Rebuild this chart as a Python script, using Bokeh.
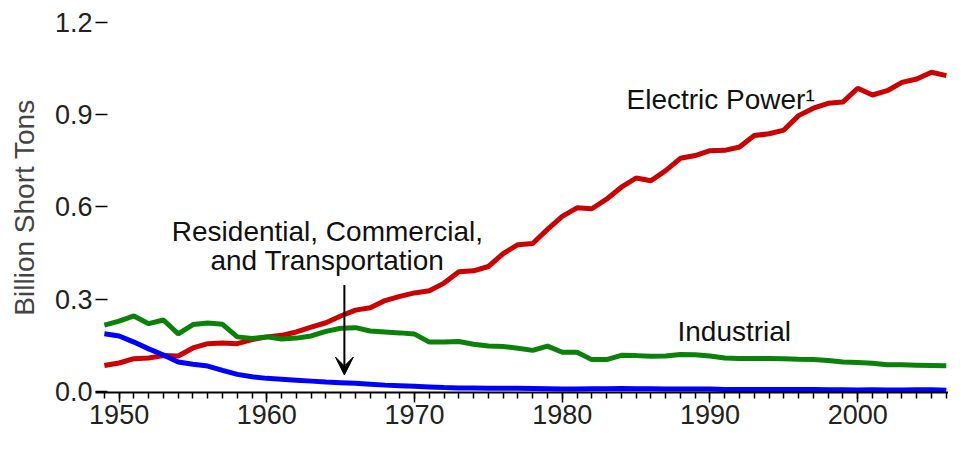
from bokeh.plotting import figure
from bokeh.models import Range1d, SingleIntervalTicker, FixedTicker, PrintfTickFormatter, Label, Arrow, VeeHead
from bokeh.embed import file_html
from bokeh.resources import INLINE

years = list(range(1949, 2007))

electric_power = [0.084, 0.092, 0.106, 0.108, 0.116, 0.115, 0.141, 0.155, 0.157, 0.155,
                  0.168, 0.177, 0.182, 0.193, 0.209, 0.223, 0.245, 0.264, 0.272, 0.295,
                  0.309, 0.320, 0.327, 0.352, 0.389, 0.392, 0.406, 0.448, 0.477, 0.481,
                  0.527, 0.569, 0.597, 0.594, 0.625, 0.664, 0.694, 0.685, 0.718, 0.758,
                  0.767, 0.783, 0.784, 0.795, 0.832, 0.838, 0.850, 0.897, 0.921, 0.937,
                  0.941, 0.986, 0.964, 0.978, 1.005, 1.016, 1.038, 1.027]

industrial = [0.215, 0.228, 0.245, 0.220, 0.232, 0.187, 0.217, 0.222, 0.218, 0.177,
              0.172, 0.177, 0.170, 0.173, 0.180, 0.195, 0.205, 0.207, 0.196, 0.193,
              0.190, 0.186, 0.160, 0.160, 0.162, 0.153, 0.147, 0.146, 0.140, 0.133,
              0.147, 0.127, 0.127, 0.103, 0.103, 0.117, 0.116, 0.114, 0.115, 0.120,
              0.119, 0.115, 0.108, 0.107, 0.107, 0.107, 0.106, 0.104, 0.103, 0.100,
              0.095, 0.094, 0.091, 0.086, 0.086, 0.085, 0.084, 0.083]

res_com_trans = [0.187, 0.180, 0.160, 0.138, 0.118, 0.095, 0.088, 0.082, 0.068, 0.055,
                 0.047, 0.042, 0.039, 0.036, 0.033, 0.030, 0.028, 0.026, 0.023, 0.020,
                 0.018, 0.016, 0.014, 0.012, 0.011, 0.011, 0.010, 0.010, 0.010, 0.009,
                 0.008, 0.007, 0.007, 0.008, 0.008, 0.009, 0.008, 0.008, 0.007, 0.007,
                 0.007, 0.007, 0.006, 0.006, 0.006, 0.006, 0.006, 0.006, 0.006, 0.005,
                 0.005, 0.004, 0.005, 0.004, 0.004, 0.005, 0.005, 0.003]

y_ticks = [0.0, 0.3, 0.6, 0.9, 1.2]

# annotation labels: (text, x-year, y-value, alignment)
label_electric = ("Electric Power\u00b9", 1984.35, 0.95, "left")
label_industrial = ("Industrial", 1987.8, 0.195, "left")
label_rct_1 = ("Residential, Commercial,", 1964.1, 0.52, "center")
label_rct_2 = ("and Transportation", 1964.1, 0.425, "center")
arrow_x = 1965.25
arrow_y = (0.346, 0.053)

FONT = "Liberation Sans"

p = figure(width=948, height=436, x_range=Range1d(1948.4, 2006.15), y_range=Range1d(-0.004, 1.2),
           output_backend="svg", toolbar_location=None,
           min_border_left=95, min_border_top=22, min_border_right=0, min_border_bottom=44)
p.outline_line_color = None
p.xgrid.visible = False
p.ygrid.visible = False

p.line(years, electric_power, line_color="#cc0000", line_width=5)
p.line(years, industrial, line_color="#0a820a", line_width=5)
p.line(years, res_com_trans, line_color="#0000ff", line_width=5)

# x axis
xa = p.xaxis[0]
xa.ticker = SingleIntervalTicker(interval=10, num_minor_ticks=10)
xa.axis_line_color = "black"
xa.axis_line_width = 2
xa.major_tick_line_color = "black"
xa.major_tick_line_width = 1.5
xa.minor_tick_line_color = "black"
xa.minor_tick_line_width = 1.5
xa.major_tick_out = 10
xa.major_tick_in = 0
xa.minor_tick_out = 6
xa.minor_tick_in = 0
xa.major_label_text_font = FONT
xa.major_label_text_font_size = "27px"
xa.major_label_text_color = "#222222"
xa.major_label_standoff = 2

# y axis
ya = p.yaxis[0]
ya.ticker = FixedTicker(ticks=y_ticks)
ya.formatter = PrintfTickFormatter(format="%.1f")
ya.axis_line_color = None
ya.major_tick_line_color = "black"
ya.major_tick_line_width = 1.5
ya.major_tick_in = 12
ya.major_tick_out = 0
ya.minor_tick_line_color = None
ya.major_label_text_font = FONT
ya.major_label_text_font_size = "27px"
ya.major_label_text_color = "#222222"
ya.major_label_standoff = 3
ya.axis_label = "Billion Short Tons"
ya.axis_label_text_font = FONT
ya.axis_label_text_font_size = "28px"
ya.axis_label_text_font_style = "normal"
ya.axis_label_text_color = "#444444"
ya.axis_label_standoff = 12

for txt, x, y, align in [label_electric, label_industrial, label_rct_1, label_rct_2]:
    p.add_layout(Label(x=x, y=y, text=txt, text_font=FONT, text_font_size="28px",
                       text_color="#111111", text_baseline="middle", text_align=align))

p.add_layout(Arrow(end=VeeHead(size=18, fill_color="black", line_color="black"),
                   x_start=arrow_x, y_start=arrow_y[0], x_end=arrow_x, y_end=arrow_y[1],
                   line_color="black", line_width=2))

open("out.html", "w").write(file_html(p, INLINE))
